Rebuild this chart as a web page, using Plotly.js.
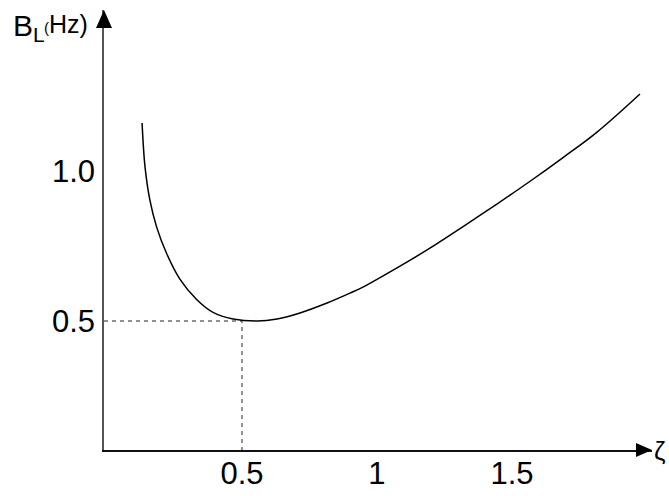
<!DOCTYPE html>
<html><head><meta charset="utf-8">
<script src="https://cdn.plot.ly/plotly-3.0.1.min.js"></script>
<style>html,body{margin:0;padding:0;background:#fff}#chart{width:669px;height:496px}</style>
</head><body><div id="chart"></div>
<script>
// Loop bandwidth B_L (Hz) versus damping ratio zeta
const zeta = [0.130, 0.141, 0.159, 0.184, 0.221, 0.270, 0.332, 0.393, 0.467, 0.556, 0.630, 0.715, 0.815, 0.900, 0.948, 1.074, 1.196, 1.319, 1.444, 1.567, 1.689, 1.815, 1.974];
const bandwidth = [1.160, 1.013, 0.903, 0.813, 0.725, 0.640, 0.572, 0.529, 0.507, 0.500, 0.507, 0.527, 0.560, 0.593, 0.613, 0.677, 0.743, 0.815, 0.890, 0.966, 1.045, 1.130, 1.257];
const minZeta = 0.5;
const minBandwidth = 0.5;
const xTickVals = [0.5, 1, 1.5];
const xTickText = ['0.5', '1', '1.5'];
const yTickVals = [0.5, 1.0];
const yTickText = ['0.5', '1.0'];
const xRange = [-0.011, 2.0185];
const yRange = [0.07, 1.537];

const W = 669, H = 496;
const M = {l: 104, r: 17, t: 10, b: 46};
const PW = W - M.l - M.r, PH = H - M.t - M.b;
const px = v => (v - M.l) / PW;          // pixel -> paper x
const py = v => (H - M.b - v) / PH;      // pixel -> paper y

const FONT = 'Liberation Sans, Arial, sans-serif';

const traces = [
  {
    x: [xRange[0], minZeta, minZeta],
    y: [minBandwidth, minBandwidth, yRange[0]],
    mode: 'lines',
    line: {color: '#222', width: 1, dash: '4px,4px'},
    hoverinfo: 'skip', showlegend: false
  },
  {
    x: zeta, y: bandwidth,
    mode: 'lines',
    line: {color: '#000', width: 1.5, shape: 'spline', smoothing: 1},
    showlegend: false
  }
];

const layout = {
  width: W, height: H,
  margin: M,
  paper_bgcolor: '#fff', plot_bgcolor: '#fff',
  showlegend: false,
  font: {family: FONT, color: '#000'},
  xaxis: {
    range: xRange, showgrid: false, zeroline: false,
    showline: true, linecolor: '#111', linewidth: 1.6,
    ticks: '', tickvals: xTickVals, ticktext: xTickText,
    tickfont: {family: FONT, size: 31, color: '#000'},
    ticklabelstandoff: -5
  },
  yaxis: {
    range: yRange, showgrid: false, zeroline: false,
    showline: true, linecolor: '#555', linewidth: 1.8,
    ticks: '', tickvals: yTickVals, ticktext: yTickText,
    tickfont: {family: FONT, size: 31, color: '#000'},
    ticklabelstandoff: 1
  },
  shapes: [
    {type: 'path', xref: 'paper', yref: 'paper', xsizemode: 'pixel', ysizemode: 'pixel',
     xanchor: 0, yanchor: 1, path: 'M0,0 L-8,-18 L8,-18 Z',
     fillcolor: '#000', line: {width: 0}},
    {type: 'path', xref: 'paper', yref: 'paper', xsizemode: 'pixel', ysizemode: 'pixel',
     xanchor: 1, yanchor: 0, path: 'M0,0 L-16,7 L-16,-7 Z',
     fillcolor: '#000', line: {width: 0}}
  ],
  annotations: [
    {xref: 'paper', yref: 'paper', x: px(11), y: py(27), xanchor: 'left', yanchor: 'middle',
     text: 'B<sub>L</sub>', showarrow: false, font: {family: FONT, size: 30, color: '#000'}},
    {xref: 'paper', yref: 'paper', x: px(42), y: py(24), xanchor: 'left', yanchor: 'middle',
     text: "<span style='font-size:15px'>(</span>Hz)", showarrow: false,
     font: {family: FONT, size: 25, color: '#000'}},
    {xref: 'paper', yref: 'paper', x: px(653), y: py(451), xanchor: 'left', yanchor: 'middle',
     text: 'ζ', showarrow: false, borderpad: 0,
     font: {family: FONT, size: 26, color: '#000'}}
  ]
};

Plotly.newPlot('chart', traces, layout, {displayModeBar: false, staticPlot: true});
</script>
</body></html>
